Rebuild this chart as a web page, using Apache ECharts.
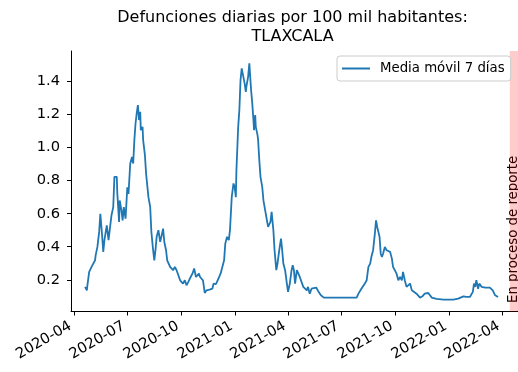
<!DOCTYPE html>
<html>
<head>
<meta charset="utf-8">
<script src="https://cdn.jsdelivr.net/npm/echarts@6/dist/echarts.min.js"></script>
<style>
html,body{margin:0;padding:0;background:#fff;}
#chart{width:518px;height:372px;}
</style>
</head>
<body>
<div id="chart"></div>
<script>
const dates = [
'2020-04-20','2020-04-23','2020-04-24','2020-04-27','2020-05-01','2020-05-04','2020-05-07','2020-05-08','2020-05-11','2020-05-14',
'2020-05-16','2020-05-19','2020-05-21','2020-05-23','2020-05-27','2020-05-30','2020-06-01','2020-06-04','2020-06-07','2020-06-09',
'2020-06-13','2020-06-14','2020-06-17','2020-06-18','2020-06-21','2020-06-23','2020-06-25','2020-06-28','2020-07-01','2020-07-03',
'2020-07-06','2020-07-09','2020-07-11','2020-07-13','2020-07-15','2020-07-17','2020-07-19','2020-07-21','2020-07-23','2020-07-24',
'2020-07-27','2020-07-28','2020-07-31','2020-08-02','2020-08-04','2020-08-06','2020-08-09','2020-08-11','2020-08-14','2020-08-16',
'2020-08-18','2020-08-20','2020-08-23','2020-08-26','2020-08-28','2020-08-31','2020-09-02','2020-09-05','2020-09-07','2020-09-09',
'2020-09-12','2020-09-15','2020-09-17','2020-09-20','2020-09-23','2020-09-26','2020-09-29','2020-10-02','2020-10-04','2020-10-07',
'2020-10-10','2020-10-13','2020-10-17','2020-10-20','2020-10-23','2020-10-26','2020-10-28','2020-10-31','2020-11-02','2020-11-05',
'2020-11-07','2020-11-10','2020-11-13','2020-11-18','2020-11-23','2020-11-25','2020-11-29','2020-12-02','2020-12-05','2020-12-07',
'2020-12-10','2020-12-13','2020-12-15','2020-12-18','2020-12-21','2020-12-23','2020-12-26','2020-12-29','2020-12-31','2021-01-02',
'2021-01-03','2021-01-06','2021-01-08','2021-01-10','2021-01-12','2021-01-15','2021-01-17','2021-01-19','2021-01-20','2021-01-23',
'2021-01-25','2021-01-27','2021-01-28','2021-01-30','2021-02-01','2021-02-02','2021-02-04','2021-02-05','2021-02-08','2021-02-09',
'2021-02-11','2021-02-13','2021-02-16','2021-02-18','2021-02-21','2021-02-23','2021-02-26','2021-02-28','2021-03-02','2021-03-04',
'2021-03-07','2021-03-09','2021-03-12','2021-03-14','2021-03-17','2021-03-20','2021-03-22','2021-03-24','2021-03-27','2021-03-30',
'2021-04-01','2021-04-04','2021-04-07','2021-04-09','2021-04-11','2021-04-13','2021-04-16','2021-04-18','2021-04-21','2021-04-24',
'2021-04-27','2021-04-30','2021-05-03','2021-05-05','2021-05-08','2021-05-11','2021-05-14','2021-05-19','2021-05-23','2021-05-27',
'2021-06-01','2021-07-27','2021-07-30','2021-08-02','2021-08-04','2021-08-07','2021-08-10','2021-08-13','2021-08-16','2021-08-19',
'2021-08-21','2021-08-24','2021-08-27','2021-08-29','2021-08-31','2021-09-02','2021-09-04','2021-09-06','2021-09-08','2021-09-10',
'2021-09-13','2021-09-16','2021-09-19','2021-09-22','2021-09-25','2021-09-27','2021-09-30','2021-10-03','2021-10-06','2021-10-09',
'2021-10-12','2021-10-14','2021-10-17','2021-10-20','2021-10-23','2021-10-26','2021-10-29','2021-11-01','2021-11-06','2021-11-12',
'2021-11-16','2021-11-20','2021-11-26','2021-12-02','2021-12-10','2021-12-22','2022-01-08','2022-01-16','2022-01-25','2022-01-30',
'2022-02-02','2022-02-05','2022-02-10','2022-02-12','2022-02-14','2022-02-16','2022-02-19','2022-02-21','2022-02-25','2022-03-03',
'2022-03-11','2022-03-16','2022-03-20','2022-03-25'
];
const values = [
0.157,0.136,0.167,0.248,0.278,0.298,0.318,0.348,0.399,0.49,
0.60,0.47,0.369,0.44,0.53,0.44,0.50,0.59,0.64,0.823,
0.823,0.72,0.55,0.68,0.62,0.56,0.64,0.57,0.76,0.72,
0.904,0.944,0.904,1.045,1.146,1.207,1.258,1.167,1.217,1.106,
1.126,1.045,0.955,0.843,0.833,0.70,0.641,0.49,0.379,0.318,
0.379,0.46,0.50,0.43,0.46,0.51,0.43,0.379,0.318,0.308,
0.278,0.288,0.258,0.278,0.258,0.248,0.197,0.197,0.177,0.197,
0.167,0.187,0.217,0.237,0.268,0.217,0.207,0.237,0.217,0.227,
0.197,0.12,0.136,0.14,0.146,0.177,0.173,0.197,0.187,0.237,
0.278,0.318,0.419,0.46,0.44,0.50,0.70,0.783,0.763,0.70,
0.863,1.126,1.227,1.409,1.48,1.47,1.389,1.338,1.369,1.43,
1.51,1.50,1.349,1.268,1.167,1.106,1.197,1.126,1.076,1.045,
0.924,0.823,0.763,0.682,0.62,0.58,0.52,0.52,0.55,0.611,
0.50,0.379,0.258,0.298,0.379,0.449,0.379,0.298,0.258,0.177,
0.127,0.177,0.258,0.288,0.258,0.177,0.258,0.268,0.217,0.207,
0.157,0.146,0.136,0.157,0.116,0.146,0.157,0.153,0.127,0.106,
0.092,0.092,0.116,0.116,0.146,0.136,0.177,0.197,0.278,0.298,
0.338,0.379,0.48,0.56,0.52,0.53,0.46,0.358,0.338,0.358,
0.399,0.379,0.389,0.369,0.328,0.278,0.258,0.237,0.197,0.217,
0.197,0.248,0.197,0.157,0.157,0.177,0.136,0.127,0.116,0.092,
0.10,0.116,0.12,0.092,0.084,0.08,0.08,0.086,0.10,0.096,
0.092,0.096,0.127,0.177,0.157,0.197,0.146,0.177,0.157,0.153,
0.153,0.136,0.106,0.096
];
const xTickLabels = ['2020-04','2020-07','2020-10','2021-01','2021-04','2021-07','2021-10','2022-01','2022-04'];
const yTickValues = [0.2,0.4,0.6,0.8,1.0,1.2,1.4];
const seriesName = 'Media móvil 7 días';
const titleText = 'Defunciones diarias por 100 mil habitantes:\nTLAXCALA';
const bandText = 'En proceso de reporte';
const bandStart = '2022-04-14';
const xMinDate = '2020-03-27';
const xMaxDate = '2022-04-28';

function ts(s){ const p = s.split('-').map(Number); return Date.UTC(p[0], p[1]-1, p[2] || 1); }
const xTickTimes = xTickLabels.map(ts);
const seriesData = dates.map((d,i)=>[ts(d), values[i]]);
const font = 'DejaVu Sans';
const tickFont = 14.67;
const smallFont = 13.3;

const chart = echarts.init(document.getElementById('chart'), null, {renderer:'canvas'});
chart.setOption({
  backgroundColor:'#ffffff',
  animation:false,
  title:{
    text:titleText, left:287.5, top:4, textAlign:'center',
    textStyle:{fontFamily:font, fontSize:16, fontWeight:'normal', color:'#000', lineHeight:18.5}
  },
  legend:{
    data:[{name:seriesName, icon:'rect'}], left:337, top:56, orient:'vertical',
    padding:[6,6,6,5], itemWidth:28, itemHeight:2, itemGap:0,
    backgroundColor:'rgba(255,255,255,0.8)', borderColor:'#cccccc', borderWidth:1, borderRadius:3,
    textStyle:{fontFamily:font, fontSize:smallFont, color:'#000', padding:[0,0,0,5]}
  },
  grid:{left:71, top:51, width:447, height:260.5, containLabel:false},
  xAxis:{
    type:'value', min:ts(xMinDate), max:ts(xMaxDate), scale:true,
    splitLine:{show:false},
    axisLine:{show:true, lineStyle:{color:'#000', width:1}},
    axisTick:{show:true, length:4, lineStyle:{color:'#000'}, customValues:xTickTimes},
    axisLabel:{
      customValues:xTickTimes, rotate:30, margin:11.5, padding:[0,4,0,0], color:'#000', fontFamily:font, fontSize:tickFont,
      formatter:function(v){ const i = xTickTimes.indexOf(v); if (i>=0) return xTickLabels[i]; const d=new Date(v); return d.getUTCFullYear()+'-'+String(d.getUTCMonth()+1).padStart(2,'0'); }
    }
  },
  yAxis:{
    type:'value', min:0.008, max:1.585,
    splitLine:{show:false},
    axisLine:{show:true, lineStyle:{color:'#000', width:1}},
    axisTick:{show:true, length:4, lineStyle:{color:'#000'}, customValues:yTickValues},
    axisLabel:{customValues:yTickValues, margin:11, color:'#000', fontFamily:font, fontSize:tickFont,
      formatter:function(v){ return Number(v).toFixed(1); }}
  },
  series:[{
    name:seriesName, type:'line', data:seriesData, showSymbol:false, symbol:'none',
    lineStyle:{color:'#1f77b4', width:1.8}, itemStyle:{color:'#1f77b4'},
    markArea:{silent:true, itemStyle:{color:'rgba(255,0,0,0.2)'},
      data:[[{xAxis:ts(bandStart)},{xAxis:ts(xMaxDate)}]]}
  }],
  graphic:[{
    type:'text', x:514, y:303, rotation:Math.PI/2, silent:true,
    style:{text:bandText, fontFamily:font, fontSize:smallFont, fill:'#000', align:'left', verticalAlign:'middle'}
  }]
});
</script>
</body>
</html>
